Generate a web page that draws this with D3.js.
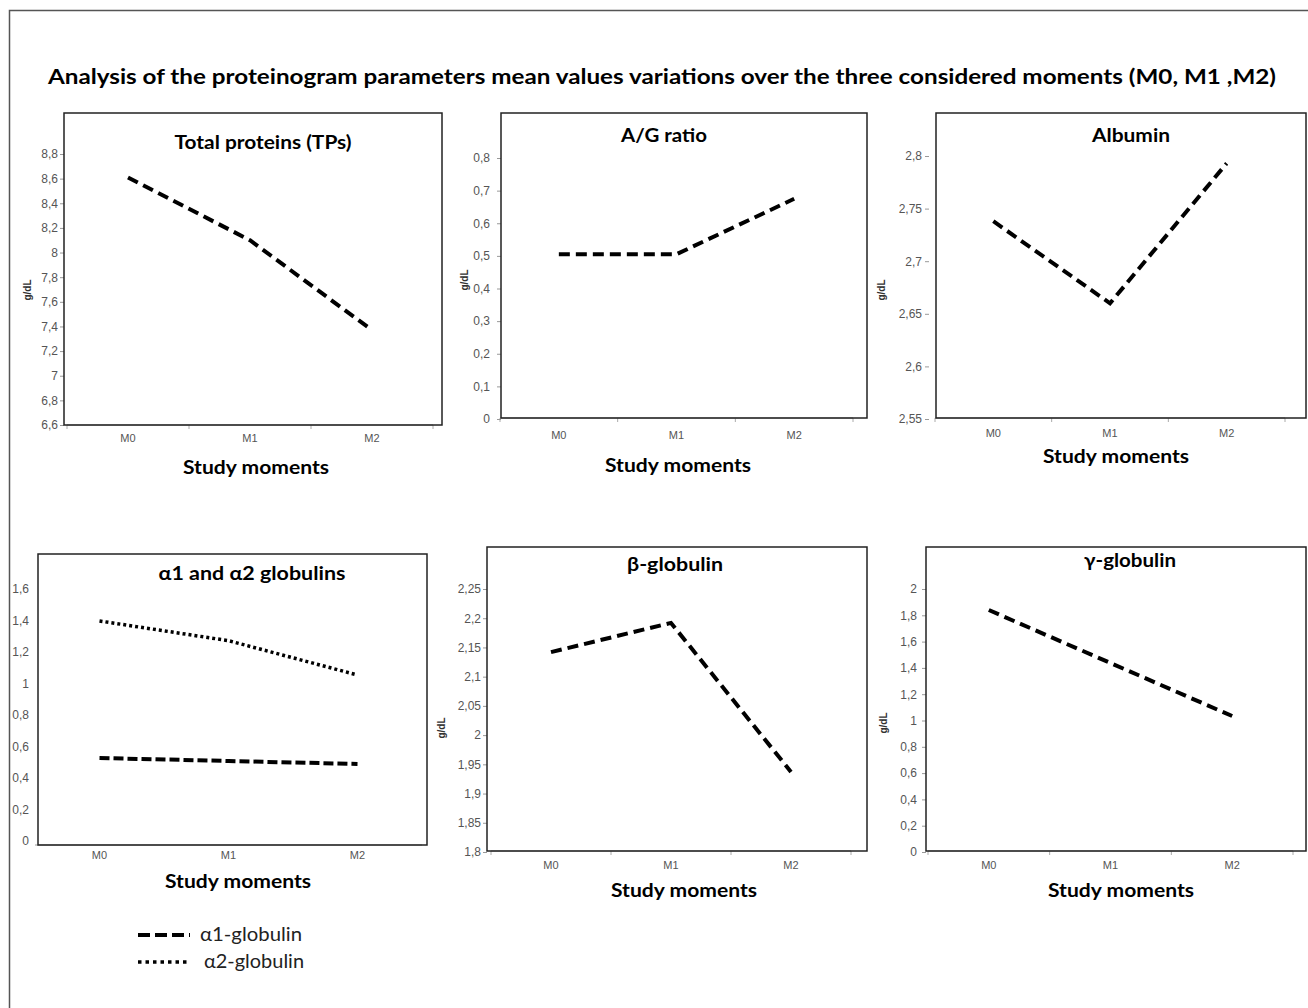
<!DOCTYPE html>
<html>
<head>
<meta charset="utf-8">
<script src="https://cdn.jsdelivr.net/npm/d3@7/dist/d3.min.js"></script>
<style>
  body { margin: 0; background: #fff; }
  .tick text { font-family: "Liberation Sans", Arial, sans-serif; }
</style>
</head>
<body>
<div id="chart"></div>
<script>
// study moments (x categories)
const moments = ['M0', 'M1', 'M2'];

// mean values, g/dL
const totalProteins = [8.61, 8.10, 7.37];
const agRatio = [0.505, 0.505, 0.675];
const albumin = [2.738, 2.660, 2.793];
const alpha1 = [0.527, 0.508, 0.489];
const alpha2 = [1.397, 1.272, 1.054];
const betaGlobulin = [2.142, 2.192, 1.937];
const gammaGlobulin = [1.84, 1.437, 1.034];

// y tick values per panel
const tpTicks = [6.6, 6.8, 7, 7.2, 7.4, 7.6, 7.8, 8, 8.2, 8.4, 8.6, 8.8];
const agTicks = [0, 0.1, 0.2, 0.3, 0.4, 0.5, 0.6, 0.7, 0.8];
const albTicks = [2.55, 2.6, 2.65, 2.7, 2.75, 2.8];
const alphaTicks = [0, 0.2, 0.4, 0.6, 0.8, 1, 1.2, 1.4, 1.6];
const betaTicks = [1.8, 1.85, 1.9, 1.95, 2, 2.05, 2.1, 2.15, 2.2, 2.25];
const gammaTicks = [0, 0.2, 0.4, 0.6, 0.8, 1, 1.2, 1.4, 1.6, 1.8, 2];

const legendLabels = ['α1-globulin', 'α2-globulin'];

const W = 1308, H = 1008;
const boldFont = 'Lato, "Open Sans", sans-serif';
const dashed = '11,6';
const dotted = '3,3';

var svg = d3.select('#chart')
    .append('svg')
        .attr('width', W)
        .attr('height', H);

// outer frame (top and left edges only are visible)
svg.append('path')
    .attr('d', 'M9.5,' + H + ' L9.5,10.5 L' + W + ',10.5')
    .attr('fill', 'none')
    .attr('stroke', '#555')
    .attr('stroke-width', 1.5);

// main title
svg.append('text')
    .attr('x', 662)
    .attr('y', 84)
    .attr('text-anchor', 'middle')
    .attr('font-family', boldFont)
    .attr('font-weight', 700)
    .attr('font-size', '21px')
    .attr('textLength', 1228)
    .attr('lengthAdjust', 'spacingAndGlyphs')
    .text('Analysis of the proteinogram parameters mean values variations over the three considered moments  (M0, M1 ,M2)');

var fmt = function (d) { return String(+d.toFixed(2)).replace('.', ','); };

var panels = [
  { title: 'Total proteins (TPs)', tx: 263, ty: 149, tw: 177,
    box: [64, 113, 442, 425], ticks: tpTicks, yRange: [425, 154],
    xa: [67, 433], xTicks: true, xLabelY: 442, yAxisX: 64, tickSize: 4, pad: 2,
    yl: [28, 290], sx: 256, sy: 474,
    series: [{ values: totalProteins, dash: dashed, w: 4 }] },
  { title: 'A/G ratio', tx: 664, ty: 142, tw: 86,
    box: [501, 113, 867, 418], ticks: agTicks, yRange: [419, 158],
    xa: [500, 853], xTicks: true, xLabelY: 439, yAxisX: 501, tickSize: 4, pad: 7,
    yl: [465, 280], sx: 678, sy: 472,
    series: [{ values: agRatio, dash: dashed, w: 4 }] },
  { title: 'Albumin', tx: 1131, ty: 142, tw: 78,
    box: [936, 113, 1306, 418], ticks: albTicks, yRange: [419, 156],
    xa: [935, 1285], xTicks: true, xLabelY: 437, yAxisX: 929, tickSize: 4, pad: 3,
    yl: [882, 290], sx: 1116, sy: 463,
    series: [{ values: albumin, dash: dashed, w: 4 }] },
  { title: 'α1  and α2 globulins', tx: 252, ty: 580, tw: 187,
    box: [38, 554, 427, 845], ticks: alphaTicks, yRange: [841, 589],
    xa: [35, 422], xTicks: false, xLabelY: 859, yAxisX: 38, tickSize: 0, pad: 9,
    yl: null, sx: 238, sy: 888,
    series: [{ values: alpha2, dash: dotted, w: 3.5 }, { values: alpha1, dash: '10,4', w: 4 }] },
  { title: 'β-globulin', tx: 675, ty: 571, tw: 96,
    box: [487, 547, 867, 851], ticks: betaTicks, yRange: [852, 589],
    xa: [491, 851], xTicks: true, xLabelY: 869, yAxisX: 487, tickSize: 4, pad: 2,
    yl: [442, 728], sx: 684, sy: 897,
    series: [{ values: betaGlobulin, dash: dashed, w: 4 }] },
  { title: 'γ-globulin', tx: 1130, ty: 567, tw: 92,
    box: [926, 547, 1306, 851], ticks: gammaTicks, yRange: [852, 589],
    xa: [928, 1293], xTicks: true, xLabelY: 869, yAxisX: 926, tickSize: 4, pad: 5,
    yl: [884, 723], sx: 1121, sy: 897,
    series: [{ values: gammaGlobulin, dash: dashed, w: 4 }] }
];

panels.forEach(function (p) {
  var g = svg.append('g');

  var Y = d3.scaleLinear()
      .domain([p.ticks[0], p.ticks[p.ticks.length - 1]])
      .range(p.yRange);

  var X = d3.scaleBand()
      .domain(moments)
      .range(p.xa);

  // X axis: boundary ticks between categories
  var edges = moments.map(function (m) { return X(m); }).concat([X.range()[1]]);
  g.append('line')
      .attr('x1', p.xa[0]).attr('x2', p.xa[1])
      .attr('y1', p.box[3]).attr('y2', p.box[3])
      .attr('stroke', '#999');
  if (p.xTicks) {
    g.selectAll('.xtick').data(edges).enter()
      .append('line')
        .attr('x1', function (d) { return d; })
        .attr('x2', function (d) { return d; })
        .attr('y1', p.box[3])
        .attr('y2', p.box[3] + 4)
        .attr('stroke', '#aaa');
  }
  g.selectAll('.xlab').data(moments).enter()
    .append('text')
      .attr('x', function (d) { return X(d) + X.bandwidth() / 2; })
      .attr('y', p.xLabelY)
      .attr('text-anchor', 'middle')
      .attr('font-family', '"Liberation Sans", Arial, sans-serif')
      .attr('font-size', '11px')
      .attr('fill', '#555')
      .text(function (d) { return d; });

  // Y axis
  var yAxisCall = d3.axisLeft(Y)
      .tickValues(p.ticks)
      .tickSize(p.tickSize)
      .tickPadding(p.pad)
      .tickFormat(fmt);
  var ya = g.append('g')
      .attr('transform', 'translate(' + p.yAxisX + ',0)')
      .call(yAxisCall);
  ya.select('.domain').remove();
  ya.selectAll('line').attr('stroke', '#999');
  ya.selectAll('text')
      .attr('font-size', '12px')
      .attr('fill', '#555');

  // frame of the panel
  g.append('rect')
      .attr('x', p.box[0]).attr('y', p.box[1])
      .attr('width', p.box[2] - p.box[0])
      .attr('height', p.box[3] - p.box[1])
      .attr('fill', 'none')
      .attr('stroke', '#222')
      .attr('stroke-width', 1.5);

  // series
  var line = d3.line()
      .x(function (d, i) { return X(moments[i]) + X.bandwidth() / 2; })
      .y(function (d) { return Y(d); });
  p.series.forEach(function (s) {
    g.append('path')
        .datum(s.values)
        .attr('d', line)
        .attr('fill', 'none')
        .attr('stroke', '#000')
        .attr('stroke-width', s.w)
        .attr('stroke-dasharray', s.dash);
  });

  // panel title
  g.append('text')
      .attr('x', p.tx).attr('y', p.ty)
      .attr('text-anchor', 'middle')
      .attr('font-family', boldFont)
      .attr('font-weight', 700)
      .attr('font-size', '18px')
      .attr('textLength', p.tw)
      .attr('lengthAdjust', 'spacingAndGlyphs')
      .text(p.title);

  // x title
  g.append('text')
      .attr('x', p.sx).attr('y', p.sy)
      .attr('text-anchor', 'middle')
      .attr('font-family', boldFont)
      .attr('font-weight', 700)
      .attr('font-size', '18px')
      .attr('textLength', 146)
      .attr('lengthAdjust', 'spacingAndGlyphs')
      .text('Study moments');

  // y title
  if (p.yl) {
    g.append('text')
        .attr('transform', 'translate(' + (p.yl[0] + 3) + ',' + p.yl[1] + ') rotate(-90)')
        .attr('text-anchor', 'middle')
        .attr('font-family', '"Liberation Sans", Arial, sans-serif')
        .attr('font-weight', 700)
        .attr('font-size', '10px')
        .attr('fill', '#333')
        .text('g/dL');
  }
});

// clipped y title of the alpha panel (only a sliver shows)
svg.append('clipPath').attr('id', 'ylclip')
  .append('rect').attr('x', 10.5).attr('y', 700).attr('width', 4).attr('height', 26);
svg.append('text')
    .attr('clip-path', 'url(#ylclip)')
    .attr('transform', 'translate(13,712) rotate(-90)')
    .attr('text-anchor', 'middle')
    .attr('font-family', '"Liberation Sans", Arial, sans-serif')
    .attr('font-weight', 700)
    .attr('font-size', '10px')
    .attr('fill', '#333')
    .text('g/dL');

// legend for the alpha panel
var legend = svg.append('g');
var legendStyle = [{ dash: '12,5', w: 4, y: 935, tx: 200, tw: 102 }, { dash: '3.5,4', w: 3.5, y: 962, tx: 204, tw: 100 }];
legendLabels.forEach(function (lab, i) {
  var s = legendStyle[i];
  legend.append('line')
      .attr('x1', 138).attr('x2', 190)
      .attr('y1', s.y).attr('y2', s.y)
      .attr('stroke', '#000')
      .attr('stroke-width', s.w)
      .attr('stroke-dasharray', s.dash);
  legend.append('text')
      .attr('x', s.tx).attr('y', s.y + 6)
      .attr('font-family', 'Lato, "Open Sans", sans-serif')
      .attr('font-size', '19px')
      .attr('textLength', s.tw)
      .attr('lengthAdjust', 'spacingAndGlyphs')
      .attr('fill', '#222')
      .text(lab);
});
</script>
</body>
</html>
